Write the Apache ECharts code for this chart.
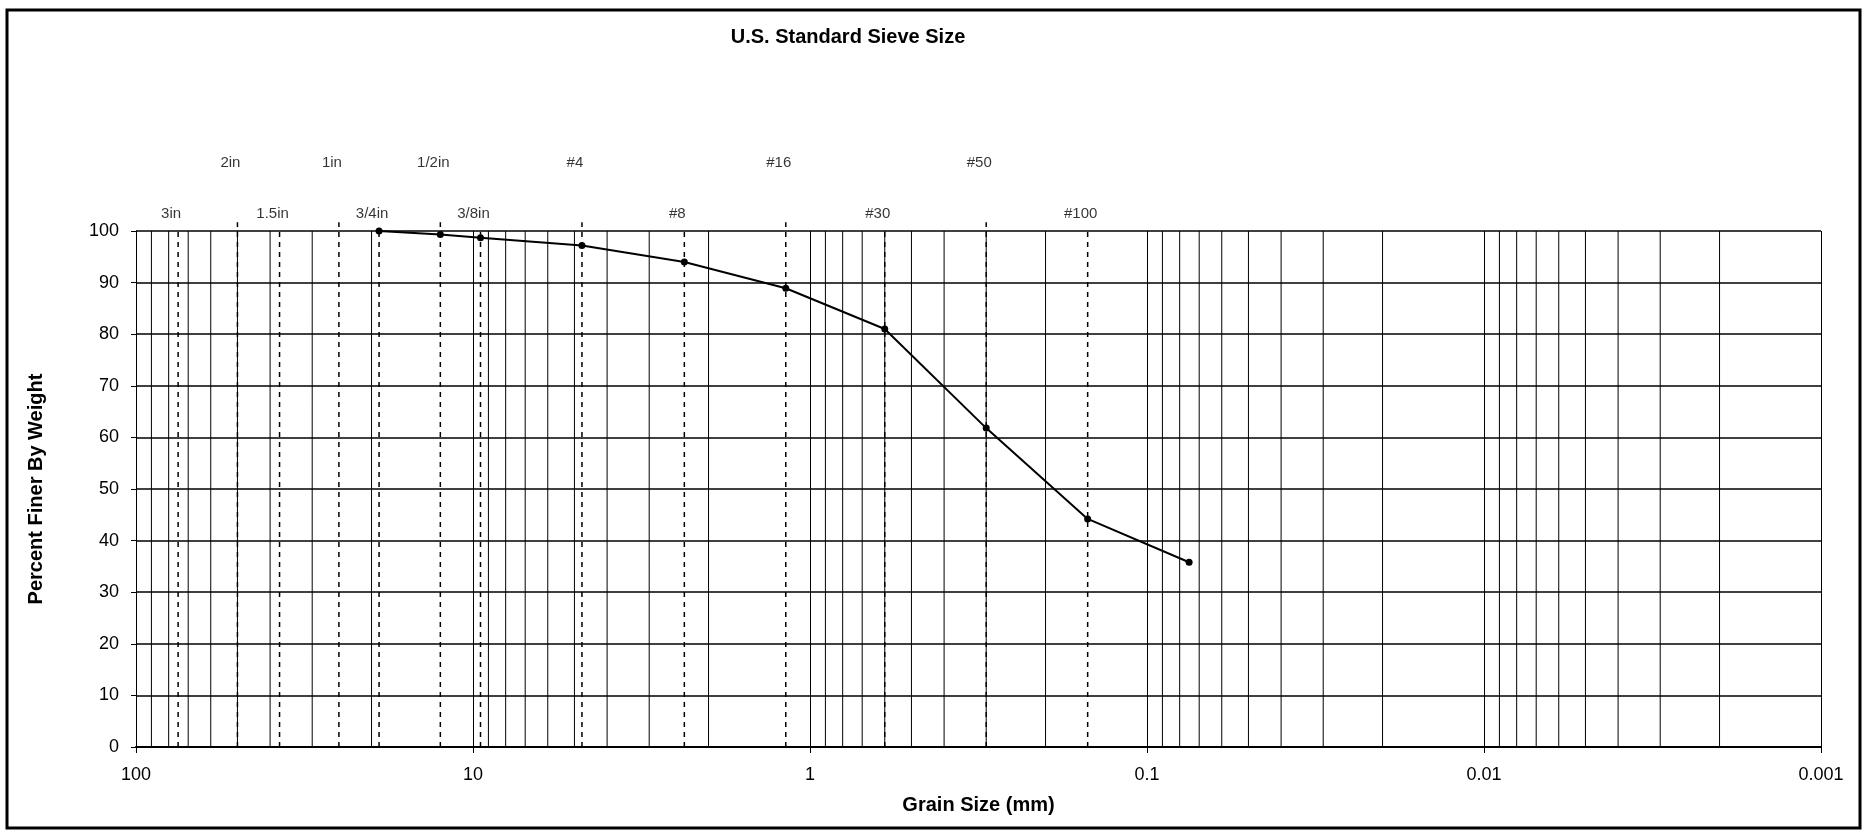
<!DOCTYPE html>
<html lang="en">
<head>
    <meta charset="UTF-8">
    <title>Grain Size Distribution</title>
    <style>
        html,body{
            margin: 0px;
            height: 100%;
            background: #fff;
        }
        #chart{
            width: 1864px;
            height: 832px;
        }
    </style>
    <script src="https://cdn.jsdelivr.net/npm/echarts@6/dist/echarts.min.js"></script>
</head>
<body>
<div id="chart"></div>
<script>
    // grain size (mm) and percent finer
    var grainSize = [19, 12.5, 9.5, 4.75, 2.36, 1.18, 0.6, 0.3, 0.15, 0.075];
    var percentFiner = [100, 99.3, 98.7, 97.2, 94, 88.9, 81, 61.8, 44.2, 35.8];

    // US standard sieves
    var sieveSize = [75, 50, 37.5, 25, 19, 12.5, 9.5, 4.75, 2.36, 1.18, 0.6, 0.3, 0.15];
    var sieveName = ['3in', '2in', '1.5in', '1in', '3/4in', '1/2in', '3/8in', '#4', '#8', '#16', '#30', '#50', '#100'];
    var sieveRow = [0, 1, 0, 1, 0, 1, 0, 1, 0, 1, 0, 1, 0];   // 1 = upper label row
    var sieveTop = [100, 101.7];       // top of dashed line per row
    var labelLevel = [103.3, 113.2];   // label height per row

    var xTicks = ['100', '10', '1', '0.1', '0.01', '0.001'];
    var decades = [0.001, 0.01, 0.1, 1, 10];
    var yTicks = [0, 10, 20, 30, 40, 50, 60, 70, 80, 90, 100];

    var font = 'Liberation Sans, Arial, sans-serif';

    var series = [];

    // minor log grid lines 2..9 in each decade
    decades.forEach(function (d) {
        for (var k = 2; k <= 9; k++) {
            var v = +(d * k).toPrecision(3);
            series.push({
                type: 'line',
                silent: true,
                symbol: 'none',
                lineStyle: {color: '#000', width: 1},
                data: [[v, 0], [v, 100]],
                z: 1
            });
        }
    });

    // sieve dashed lines
    sieveSize.forEach(function (s, i) {
        series.push({
            type: 'line',
            clip: false,
            silent: true,
            symbol: 'none',
            lineStyle: {color: '#000', width: 1.5, type: [5, 5]},
            data: [[s, 0], [s, sieveTop[sieveRow[i]]]],
            z: 3
        });
    });

    // sieve labels
    series.push({
        type: 'scatter',
        clip: false,
        silent: true,
        symbolSize: 0,
        label: {
            show: true,
            position: 'inside',
            offset: [-7, 0],
            color: '#000',
            fontSize: 15,
            fontFamily: font,
            formatter: function (p) { return sieveName[p.dataIndex]; }
        },
        data: sieveSize.map(function (s, i) { return [s, labelLevel[sieveRow[i]]]; })
    });

    // gradation curve
    series.push({
        type: 'line',
        clip: false,
        symbol: 'circle',
        symbolSize: 7,
        itemStyle: {color: '#000'},
        lineStyle: {color: '#000', width: 2},
        data: grainSize.map(function (g, i) { return [g, percentFiner[i]]; }),
        z: 5
    });

    var chart = echarts.init(document.getElementById('chart'));
    chart.setOption({
        animation: false,
        textStyle: {fontFamily: font},
        title: {
            text: 'U.S. Standard Sieve Size',
            left: 843,
            top: 22,
            textAlign: 'center',
            textStyle: {fontSize: 20, fontWeight: 'bold', color: '#000', fontFamily: font}
        },
        graphic: [{
            type: 'rect',
            shape: {x: 7, y: 10, width: 1853, height: 818},
            style: {fill: null, stroke: '#000', lineWidth: 3},
            silent: true
        }],
        grid: {left: 136, right: 43, top: 231, bottom: 85},
        xAxis: {
            type: 'log',
            logBase: 10,
            inverse: true,
            min: 0.001,
            max: 100,
            name: 'Grain Size (mm)',
            nameLocation: 'middle',
            nameGap: 48,
            nameTextStyle: {fontSize: 20, fontWeight: 'bold', color: '#000'},
            axisLine: {lineStyle: {color: '#000', width: 2}},
            axisTick: {show: true, length: 6, lineStyle: {color: '#000'}},
            axisLabel: {
                fontSize: 18,
                color: '#000',
                margin: 19,
                formatter: function (v) {
                    var i = Math.round(2 - Math.log10(v));
                    return xTicks[i] !== undefined ? xTicks[i] : '';
                }
            },
            splitLine: {show: true, lineStyle: {color: '#000', width: 1}}
        },
        yAxis: {
            type: 'value',
            min: 0,
            max: 100,
            interval: 10,
            name: 'Percent Finer By Weight',
            nameLocation: 'middle',
            nameGap: 90,
            nameTextStyle: {fontSize: 20, fontWeight: 'bold', color: '#000'},
            axisLine: {show: true, lineStyle: {color: '#000', width: 1}},
            axisTick: {show: true, length: 5, lineStyle: {color: '#000'}},
            axisLabel: {
                fontSize: 18,
                color: '#000',
                margin: 17,
                formatter: function (v) { return yTicks.indexOf(v) >= 0 ? String(v) : ''; }
            },
            splitLine: {show: true, lineStyle: {color: '#000', width: 1.5}}
        },
        series: series
    });
</script>
</body>
</html>
